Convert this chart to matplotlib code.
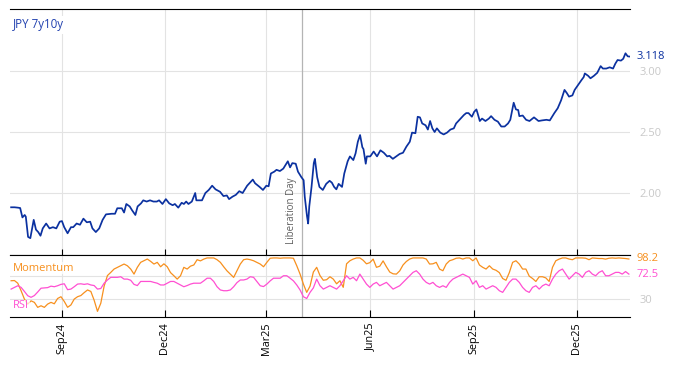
import matplotlib
matplotlib.use("Agg")
import matplotlib.pyplot as plt
import matplotlib.dates as mdates
import pandas as pd
import numpy as np

plt.rcParams['font.family'] = ['Open Sans', 'DejaVu Sans']

# ---------------- data ----------------
base_date = "2024-09-01"
main_days = [-45, -42, -39, -37, -35, -33, -32, -30, -28, -25, -23, -21, -19, -17, -14, -11, -8, -5, -2, 0,
             2, 5, 8, 10, 13, 16, 19, 22, 25, 27, 30, 33, 36, 39, 44, 47, 49, 53, 55, 57,
             60, 62, 65, 67, 70, 72, 75, 78, 81, 84, 86, 89, 92, 95, 98, 100, 103, 106, 108, 110,
             112, 115, 118, 119, 124, 127, 130, 133, 136, 140, 143, 146, 148, 151, 154, 157, 160, 164, 169, 171,
             175, 178, 181, 183, 185, 188, 190, 193, 196, 200, 202, 204, 207, 209, 212, 214, 215, 217, 218, 219,
             221, 223, 224, 226, 228, 231, 234, 237, 239, 241, 243, 245, 248, 250, 253, 255, 258, 260, 262, 264,
             266, 267, 269, 270, 273, 276, 279, 282, 285, 288, 290, 293, 296, 299, 302, 305, 308, 310, 313, 315,
             317, 319, 322, 324, 326, 328, 330, 332, 335, 338, 341, 344, 347, 349, 351, 354, 356, 358, 360, 363,
             365, 367, 368, 370, 372, 375, 378, 380, 383, 386, 389, 392, 395, 397, 400, 402, 404, 405, 408, 411,
             414, 418, 422, 425, 429, 432, 434, 436, 439, 442, 445, 447, 449, 452, 454, 457, 460, 462, 463, 466,
             468, 471, 474, 477, 479, 482, 485, 488, 490, 492, 495, 497, 499, 501, 503]
main_values = [1.883, 1.883, 1.88, 1.877, 1.80, 1.82, 1.806, 1.64, 1.63, 1.78, 1.70, 1.68, 1.65, 1.71, 1.75, 1.71, 1.72, 1.71, 1.765, 1.77,
               1.72, 1.67, 1.72, 1.72, 1.75, 1.74, 1.79, 1.76, 1.765, 1.71, 1.68, 1.71, 1.78, 1.825, 1.83, 1.83, 1.875, 1.875, 1.84, 1.91,
               1.89, 1.86, 1.82, 1.89, 1.915, 1.94, 1.93, 1.94, 1.93, 1.93, 1.94, 1.91, 1.95, 1.915, 1.90, 1.91, 1.88, 1.92, 1.91, 1.93,
               1.91, 1.93, 2.00, 1.94, 1.94, 2.00, 2.025, 2.06, 2.03, 2.01, 1.975, 1.98, 1.95, 1.97, 1.985, 2.015, 2.00, 2.06, 2.11, 2.08,
               2.05, 2.025, 2.06, 2.055, 2.16, 2.175, 2.19, 2.18, 2.20, 2.26, 2.21, 2.245, 2.24, 2.175, 2.13, 2.105, 1.97, 1.81, 1.75, 1.89,
               2.05, 2.245, 2.28, 2.13, 2.05, 2.025, 2.075, 2.10, 2.085, 2.05, 2.03, 2.075, 2.05, 2.16, 2.26, 2.30, 2.27, 2.325, 2.42, 2.475,
               2.375, 2.36, 2.24, 2.30, 2.30, 2.34, 2.30, 2.35, 2.33, 2.30, 2.305, 2.28, 2.30, 2.32, 2.33, 2.38, 2.42, 2.495, 2.49, 2.625,
               2.62, 2.57, 2.555, 2.52, 2.59, 2.53, 2.50, 2.53, 2.495, 2.48, 2.495, 2.52, 2.53, 2.57, 2.59, 2.62, 2.64, 2.655, 2.655, 2.625,
               2.665, 2.685, 2.655, 2.59, 2.61, 2.59, 2.61, 2.63, 2.60, 2.585, 2.545, 2.545, 2.57, 2.60, 2.74, 2.685, 2.68, 2.63, 2.635, 2.60,
               2.59, 2.62, 2.59, 2.595, 2.60, 2.595, 2.625, 2.655, 2.695, 2.76, 2.845, 2.82, 2.79, 2.80, 2.845, 2.885, 2.925, 2.95, 2.98, 2.96,
               2.94, 2.96, 2.985, 3.04, 3.02, 3.02, 3.03, 3.02, 3.06, 3.09, 3.085, 3.10, 3.145, 3.12, 3.118]

osc_start = "2024-07-18"
osc_end = "2026-01-16"
momentum = [61.2, 61.5, 57, 44.2, 30, 21.5, 27, 24.4, 15.9, 18.6, 15.9, 21.5, 24.4, 22, 31, 34, 26, 16, 20, 30,
            34, 36, 41, 45.5, 43, 28, 9.1, 23, 52, 70, 75.4, 81.1, 84, 86.7, 89.6, 86.7, 81.1, 72.5, 84, 92.5,
            95.2, 98.1, 94.2, 89.6, 92.5, 85, 90, 85, 75, 69.7, 64, 69.7, 84, 81.1, 86, 88, 97, 95, 98, 100,
            100, 100, 97, 92.5, 85, 78, 72.5, 66.9, 78.2, 89.6, 97, 98.1, 97, 95.2, 92.5, 89.6, 85, 92.5, 99.5, 100,
            100, 99.5, 100, 100, 100, 99.5, 86.7, 72.5, 55.5, 41.4, 52, 76,
            84, 70, 62, 63, 68, 64, 56, 61.2, 50, 90, 95.2, 98.1, 100, 100, 96, 90, 92, 98, 84, 86,
            95, 85, 76, 73, 72.5, 78, 88, 94, 98.1, 100, 100, 100, 100, 98.1, 89.6, 90, 92.5, 81.1, 78.2, 89.6,
            95.2, 97, 99.5, 100, 98.1, 100, 100, 95.2, 100, 88, 84, 81.1, 86.7, 81.1, 79, 75, 65, 62, 75, 92.5,
            95.2, 89.6, 81.1, 81.1, 69, 65, 60, 68, 68, 66, 60, 84, 95.2, 98, 100, 100, 98.1, 97, 100, 100,
            100, 99.5, 97, 100, 99.5, 99, 99, 98, 99.5, 100, 99.5, 100, 99.5, 99, 98.2]
rsi = [47, 49.9, 52.7, 49.9, 43, 35.7, 33, 36, 42, 48.5, 49, 49.5, 52, 51, 52.7, 55, 56, 46, 47, 51,
       55.5, 56, 55, 56, 54, 53, 47, 48, 57, 62.5, 67, 67, 67, 68, 64, 64, 62, 55, 53, 60,
       60, 60, 60, 58.4, 57, 54, 54, 57, 60, 60, 57, 54, 51, 53, 55.5, 57, 57, 57, 61, 65.5,
       65.5, 60, 51, 45.5, 44.2, 44.2, 45.5, 51, 58, 62.5, 62.5, 64, 68, 67, 60, 52.7, 51.3, 55.5, 61, 65.5,
       65.5, 65.5, 69.7, 69.7, 65.5, 61, 54, 45.5, 34, 31, 41.4, 49,
       64, 52.7, 47, 49.9, 52.7, 49.9, 47, 52.7, 61.2, 69.7, 64, 66.9, 61.2, 72.5, 64, 55.5, 49.9, 55.5, 58.4, 52.7,
       55.5, 58.4, 52.7, 47, 49.9, 52.7, 58.4, 64, 69.7, 75.4, 78.2, 72.5, 64, 58.4, 55.5, 58.4, 52.7, 49.9, 52.7, 49.9,
       58.4, 64, 66.9, 69.7, 72.5, 69.7, 66.9, 55.5, 61.2, 49.9, 52.7, 47, 49.9, 52.7, 49.9, 44.2, 41.4, 49.9, 58.4, 64,
       64, 58.4, 49.9, 44.2, 41.4, 49.9, 52.7, 47, 52.7, 55.5, 52.7, 64, 72.5, 78.2, 81.1, 72.5, 64, 69.7, 75.4, 72.5,
       66.9, 75.4, 78.2, 72.5, 69.7, 75.4, 78.2, 69.7, 69.7, 72.5, 75.4, 75.4, 72.5, 76.8, 72.5]

event_date = "2025-04-02"
event_label = "Liberation Day"
series_name = "JPY 7y10y"
last_value = 3.118
last_momentum = 98.2
last_rsi = 72.5
xlim_dates = ("2024-07-17", "2026-01-17")
tick_dates = ["2024-09-01", "2024-12-01", "2025-03-01", "2025-06-01", "2025-09-01", "2025-12-01"]
main_yticks = [2.0, 2.5, 3.0]
osc_yticks = [30, 70]

# ---------------- build ----------------
main_dates = pd.Timestamp(base_date) + pd.to_timedelta(main_days, unit="D")
osc_dates = pd.date_range(osc_start, osc_end, periods=len(rsi))
mom_dates = pd.date_range(osc_start, osc_end, periods=len(momentum))

BLUE = "#0b31a0"
ORANGE = "#f7901e"
PINK = "#ff4fd2"
GRID = "#e3e3e3"
TICKGRAY = "#c8c8c8"
FS = 8

fig = plt.figure(figsize=(6.74, 3.66), dpi=100)
W, H = 674, 366
L, R = 10 / W, 630 / W
ax = fig.add_axes([L, 1 - 255 / H, R - L, (255 - 9) / H])
ax2 = fig.add_axes([L, 1 - 317 / H, R - L, (317 - 255) / H], sharex=ax)

xl = (pd.Timestamp(xlim_dates[0]), pd.Timestamp(xlim_dates[1]))
ticks = pd.to_datetime(tick_dates)

# main
ax.plot(main_dates, main_values, color=BLUE, lw=1.25, zorder=3)
ax.set_xlim(xl)
ax.set_ylim(1.492, 3.508)
ax.set_yticks(main_yticks)
ax.set_yticklabels([f"{v:.2f}" for v in main_yticks])
ax.yaxis.tick_right()
ax.tick_params(axis="y", length=0, pad=7, labelsize=FS, labelcolor=TICKGRAY)
ax.set_xticks(ticks)
ax.tick_params(axis="x", direction="in", length=4, color="black", labelbottom=False)
ax.grid(True, color=GRID, lw=0.8)
for s in ["left", "right"]:
    ax.spines[s].set_visible(False)

ev = pd.Timestamp(event_date)
evn = mdates.date2num(ev)
ax.axvline(ev, color="#b4b4b4", lw=0.9, zorder=2)
ax2.axvline(ev, color="#b4b4b4", lw=0.9, zorder=2)
ax.annotate(event_label, xy=(evn, 0.045), xycoords=ax.get_xaxis_transform(),
            xytext=(-4, 0), textcoords="offset points", rotation=90,
            ha="right", va="bottom", fontsize=7, color="#606060")

ax.text(0.005, 0.935, series_name, transform=ax.transAxes, color="#1f3fae", fontsize=8.3,
        ha="left", va="center", zorder=5,
        bbox=dict(facecolor="white", edgecolor="none", pad=1.5))
ax.text(1.011, last_value, f"{last_value:.3f}", transform=ax.get_yaxis_transform(),
        color=BLUE, fontsize=FS, ha="left", va="center", clip_on=False)

# oscillators
ax2.plot(mom_dates, momentum, color=ORANGE, lw=0.9, zorder=3)
ax2.plot(osc_dates, rsi, color=PINK, lw=0.9, zorder=3)
ax2.set_ylim(-0.5, 105)
ax2.set_yticks(osc_yticks)
ax2.set_yticklabels(["30", ""])
ax2.yaxis.tick_right()
ax2.tick_params(axis="y", length=0, pad=7, labelsize=FS, labelcolor=TICKGRAY)
ax2.set_xticks(ticks)
ax2.xaxis.set_major_formatter(mdates.DateFormatter("%b%y"))
ax2.tick_params(axis="x", direction="in", length=5, color="black", labelsize=7.8,
                labelrotation=90, pad=4)
ax2.grid(True, color=GRID, lw=0.8)
for s in ["left", "right"]:
    ax2.spines[s].set_visible(False)
ax2.text(1.011, last_momentum, f"{last_momentum}", transform=ax2.get_yaxis_transform(),
         color=ORANGE, fontsize=FS, ha="left", va="center", clip_on=False)
ax2.text(1.011, last_rsi, f"{last_rsi}", transform=ax2.get_yaxis_transform(),
         color=PINK, fontsize=FS, ha="left", va="center", clip_on=False)
ax2.text(0.005, 0.79, "Momentum", transform=ax2.transAxes, color=ORANGE, fontsize=FS,
         ha="left", va="center", zorder=5,
         bbox=dict(facecolor="white", edgecolor="none", pad=0.5, alpha=0.7))
ax2.text(0.005, 0.18, "RSI", transform=ax2.transAxes, color=PINK, fontsize=FS,
         ha="left", va="center", zorder=5,
         bbox=dict(facecolor="white", edgecolor="none", pad=0.5, alpha=0.7))

fig.savefig("out.png", dpi=100)
